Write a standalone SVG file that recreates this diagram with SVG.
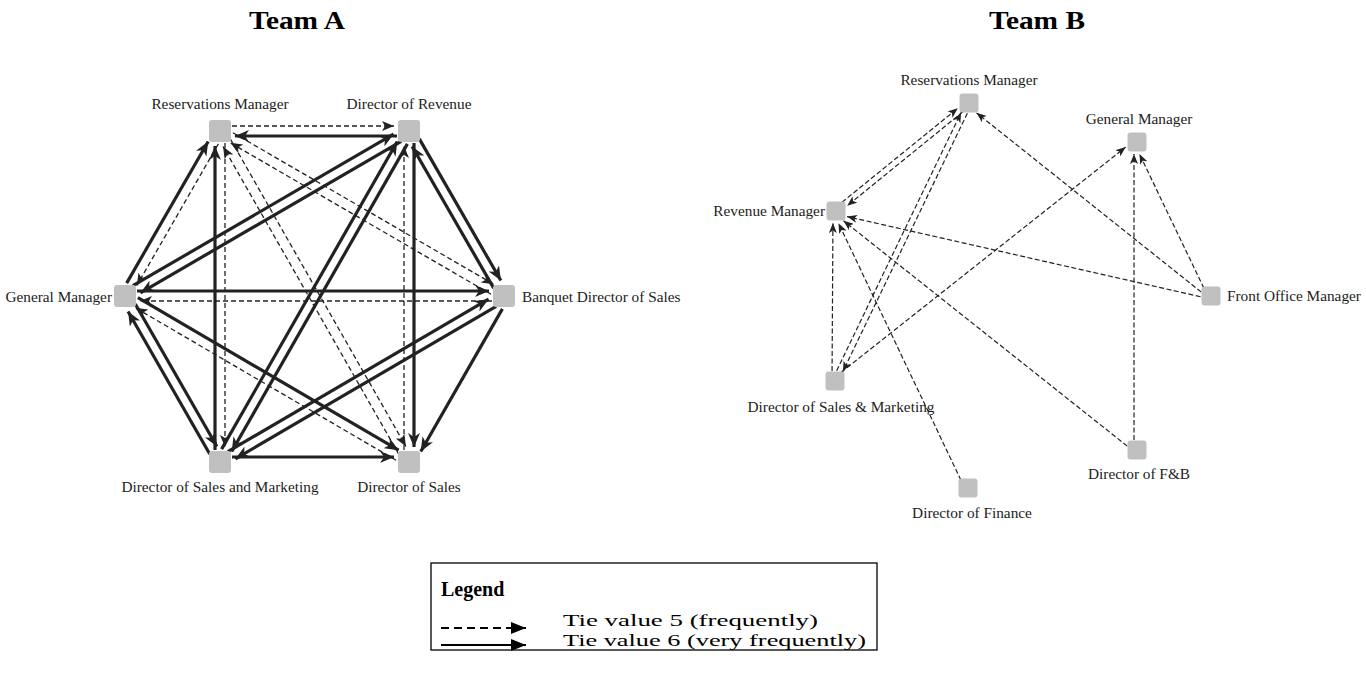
<svg xmlns="http://www.w3.org/2000/svg" width="1366" height="677" viewBox="0 0 1366 677">
<style>
text{font-family:"Liberation Serif","Times New Roman",serif;fill:#222}
.t{font-size:26px;font-weight:bold;text-anchor:middle;fill:#000}
.l{font-size:15.3px}
.m{text-anchor:middle}
.e{text-anchor:end}
.na{fill:#c0c0c0}
.s{stroke:#222;stroke-width:3.2;fill:none;marker-end:url(#ahs)}
.d{stroke:#222;stroke-width:1.3;fill:none;stroke-dasharray:5 3;marker-end:url(#ahd)}
.b{stroke:#222;stroke-width:1.2;fill:none;stroke-dasharray:5 2.5;marker-end:url(#ahb)}
.lg{font-size:17.5px;fill:#000}
</style>
<defs>
<marker id="ahs" markerUnits="userSpaceOnUse" markerWidth="16" markerHeight="12" refX="14" refY="6" orient="auto"><path d="M0,0 L14,6 L0,12 L4,6 Z" fill="#222"/></marker>
<marker id="ahd" markerUnits="userSpaceOnUse" markerWidth="14" markerHeight="10" refX="12" refY="5" orient="auto"><path d="M0,0 L12,5 L0,10 L3,5 Z" fill="#222"/></marker>
<marker id="ahb" markerUnits="userSpaceOnUse" markerWidth="12" markerHeight="8" refX="10" refY="4" orient="auto"><path d="M0,0 L10,4 L0,8 L2.5,4 Z" fill="#222"/></marker>
<marker id="ahl" markerUnits="userSpaceOnUse" markerWidth="16" markerHeight="12" refX="15" refY="6" orient="auto"><path d="M0,0 L15,6 L0,12 Z" fill="#000"/></marker>
</defs>

<text class="t" x="297" y="29" textLength="96" lengthAdjust="spacingAndGlyphs">Team A</text>
<text class="t" x="1037" y="29" textLength="96" lengthAdjust="spacingAndGlyphs">Team B</text>

<g id="connectors-a">
<g transform="translate(220,131) rotate(0)"><line class="d" x1="12" y1="-5" x2="174" y2="-5"/></g>
<g transform="translate(409,131) rotate(180)"><line class="s" x1="12" y1="-5" x2="174" y2="-5"/></g>
<g transform="translate(125,296) rotate(-60.07)"><line class="s" x1="12" y1="-5" x2="175.4" y2="-5"/></g>
<g transform="translate(220,131) rotate(119.93)"><line class="d" x1="12" y1="-5" x2="175.4" y2="-5"/></g>
<g transform="translate(220,462) rotate(-90)"><line class="s" x1="12" y1="-5" x2="316" y2="-5"/></g>
<g transform="translate(220,131) rotate(90)"><line class="d" x1="12" y1="-5" x2="316" y2="-5"/></g>
<g transform="translate(220,131) rotate(60.27)"><line class="d" x1="12" y1="-5" x2="366.2" y2="-5"/></g>
<g transform="translate(409,462) rotate(-119.73)"><line class="d" x1="12" y1="-5" x2="366.2" y2="-5"/></g>
<g transform="translate(220,131) rotate(30.16)"><line class="d" x1="12" y1="-5" x2="313.5" y2="-5"/></g>
<g transform="translate(504,296) rotate(-149.84)"><line class="d" x1="12" y1="-5" x2="313.5" y2="-5"/></g>
<g transform="translate(409,131) rotate(149.84)"><line class="s" x1="12" y1="-5" x2="313.5" y2="-5"/></g>
<g transform="translate(125,296) rotate(-30.16)"><line class="s" x1="12" y1="-5" x2="313.5" y2="-5"/></g>
<g transform="translate(409,131) rotate(60.07)"><line class="s" x1="12" y1="-5" x2="175.4" y2="-5"/></g>
<g transform="translate(504,296) rotate(-119.93)"><line class="s" x1="12" y1="-5" x2="175.4" y2="-5"/></g>
<g transform="translate(409,131) rotate(119.73)"><line class="s" x1="12" y1="-5" x2="366.2" y2="-5"/></g>
<g transform="translate(220,462) rotate(-60.27)"><line class="s" x1="12" y1="-5" x2="366.2" y2="-5"/></g>
<g transform="translate(409,131) rotate(90)"><line class="s" x1="12" y1="-5" x2="316" y2="-5"/></g>
<g transform="translate(409,462) rotate(-90)"><line class="d" x1="12" y1="-5" x2="316" y2="-5"/></g>
<g transform="translate(125,296) rotate(0)"><line class="s" x1="12" y1="-5" x2="364" y2="-5"/></g>
<g transform="translate(504,296) rotate(180)"><line class="d" x1="12" y1="-5" x2="364" y2="-5"/></g>
<g transform="translate(125,296) rotate(60.22)"><line class="s" x1="12" y1="-5" x2="176.3" y2="-5"/></g>
<g transform="translate(220,462) rotate(-119.78)"><line class="s" x1="12" y1="-5" x2="176.3" y2="-5"/></g>
<g transform="translate(125,296) rotate(30.31)"><line class="s" x1="12" y1="-5" x2="314" y2="-5"/></g>
<g transform="translate(409,462) rotate(-149.69)"><line class="d" x1="12" y1="-5" x2="314" y2="-5"/></g>
<g transform="translate(504,296) rotate(149.69)"><line class="s" x1="12" y1="-5" x2="314" y2="-5"/></g>
<g transform="translate(220,462) rotate(-30.31)"><line class="s" x1="12" y1="-5" x2="314" y2="-5"/></g>
<g transform="translate(504,296) rotate(119.78)"><line class="s" x1="12" y1="-5" x2="176.3" y2="-5"/></g>
<g transform="translate(220,462) rotate(0)"><line class="s" x1="12" y1="-5" x2="174" y2="-5"/></g>
</g>

<g id="connectors-b">
<g transform="translate(836,211) rotate(-39.08)"><line class="b" x1="10" y1="-3" x2="159.3" y2="-3"/></g>
<g transform="translate(969,103) rotate(140.92)"><line class="b" x1="10" y1="-3" x2="159.3" y2="-3"/></g>
<g transform="translate(835,381) rotate(-64.26)"><line class="b" x1="10" y1="-3" x2="296.6" y2="-3"/></g>
<g transform="translate(969,103) rotate(115.74)"><line class="b" x1="10" y1="-3" x2="296.6" y2="-3"/></g>
<g transform="translate(835,381) rotate(-38.36)"><line class="b" x1="10" y1="-3" x2="373.1" y2="-3"/></g>
<g transform="translate(835,381) rotate(-89.66)"><line class="b" x1="10" y1="-3" x2="158" y2="-3"/></g>
<g transform="translate(968,488) rotate(-115.48)"><line class="b" x1="10" y1="-3" x2="294.8" y2="-3"/></g>
<g transform="translate(1137,450) rotate(-141.55)"><line class="b" x1="10" y1="-3" x2="372.4" y2="-3"/></g>
<g transform="translate(1211,296) rotate(-167.23)"><line class="b" x1="10" y1="-3" x2="372.5" y2="-3"/></g>
<g transform="translate(1211,296) rotate(-141.43)"><line class="b" x1="10" y1="-3" x2="297.5" y2="-3"/></g>
<g transform="translate(1211,296) rotate(-115.66)"><line class="b" x1="10" y1="-3" x2="158.9" y2="-3"/></g>
<g transform="translate(1137,450) rotate(-90)"><line class="b" x1="10" y1="-3" x2="296" y2="-3"/></g>
</g>

<g id="a-reservations-manager"><rect class="na" x="209" y="120" width="22" height="22" rx="3"/><text class="l m" x="220" y="109">Reservations Manager</text></g>
<g id="a-director-of-revenue"><rect class="na" x="398" y="120" width="22" height="22" rx="3"/><text class="l m" x="409" y="109">Director of Revenue</text></g>
<g id="a-general-manager"><rect class="na" x="114" y="285" width="22" height="22" rx="3"/><text class="l e" x="112" y="302">General Manager</text></g>
<g id="a-banquet-director"><rect class="na" x="493" y="285" width="22" height="22" rx="3"/><text class="l" x="522" y="302">Banquet Director of Sales</text></g>
<g id="a-director-sales-marketing"><rect class="na" x="209" y="451" width="22" height="22" rx="3"/><text class="l m" x="220" y="492">Director of Sales and Marketing</text></g>
<g id="a-director-of-sales"><rect class="na" x="398" y="451" width="22" height="22" rx="3"/><text class="l m" x="409" y="492">Director of Sales</text></g>

<g id="b-reservations-manager"><rect class="na" x="959.5" y="93.5" width="19" height="19" rx="3"/><text class="l m" x="969" y="85">Reservations Manager</text></g>
<g id="b-revenue-manager"><rect class="na" x="826.5" y="201.5" width="19" height="19" rx="3"/><text class="l e" x="825" y="216">Revenue Manager</text></g>
<g id="b-general-manager"><rect class="na" x="1127.5" y="132.5" width="19" height="19" rx="3"/><text class="l m" x="1139" y="124">General Manager</text></g>
<g id="b-front-office-manager"><rect class="na" x="1201.5" y="286.5" width="19" height="19" rx="3"/><text class="l" x="1227" y="301">Front Office Manager</text></g>
<g id="b-director-sales-marketing"><rect class="na" x="825.5" y="371.5" width="19" height="19" rx="3"/><text class="l m" x="841" y="412">Director of Sales &amp; Marketing</text></g>
<g id="b-director-fb"><rect class="na" x="1127.5" y="440.5" width="19" height="19" rx="3"/><text class="l m" x="1139" y="479">Director of F&amp;B</text></g>
<g id="b-director-finance"><rect class="na" x="958.5" y="478.5" width="19" height="19" rx="3"/><text class="l m" x="972" y="518">Director of Finance</text></g>

<g id="legend">
<rect x="431" y="563" width="446" height="87" fill="none" stroke="#000" stroke-width="1.3"/>
<text x="441" y="596" style="font-size:20px;font-weight:bold;fill:#000">Legend</text>
<line x1="441" y1="628" x2="526" y2="628" stroke="#000" stroke-width="2" stroke-dasharray="8 5" marker-end="url(#ahl)"/>
<line x1="441" y1="645" x2="526" y2="645" stroke="#000" stroke-width="2.2" marker-end="url(#ahl)"/>
<text class="lg" x="563" y="626" textLength="255" lengthAdjust="spacingAndGlyphs">Tie value 5 (frequently)</text>
<text class="lg" x="563" y="646" textLength="303" lengthAdjust="spacingAndGlyphs">Tie value 6 (very frequently)</text>
</g>
</svg>
